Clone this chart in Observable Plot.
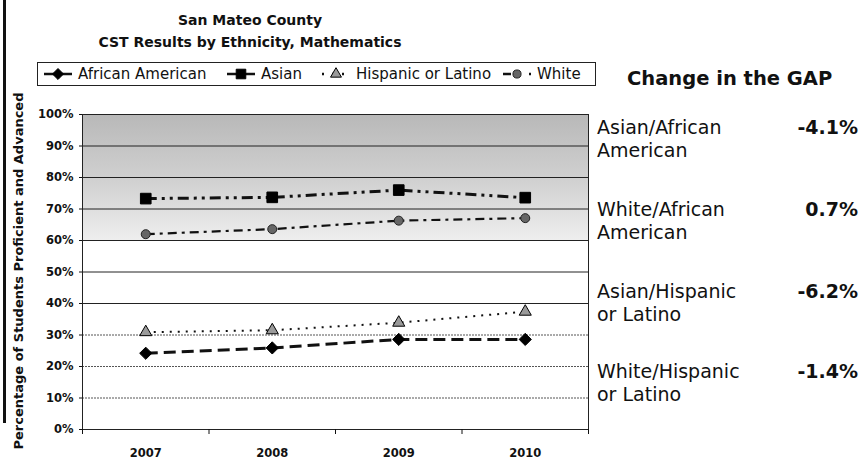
<!DOCTYPE html>
<html>
<head>
<meta charset="utf-8">
<script src="https://cdn.jsdelivr.net/npm/d3@7"></script>
<script src="https://cdn.jsdelivr.net/npm/@observablehq/plot@0.6"></script>
<style>
  html, body { margin: 0; padding: 0; background: #fff; }
  #wrap { position: relative; width: 864px; height: 461px; overflow: hidden; font-family: "DejaVu Sans", Verdana, sans-serif; color: #111; }
  #chart { position: absolute; left: 0; top: 0; }
  .abs { position: absolute; white-space: nowrap; }
  #title { left: 60px; width: 380px; top: 9px; text-align: center; font-weight: bold; font-size: 14px; line-height: 22px; }
  #legend { left: 37px; top: 62px; width: 557px; height: 22px; border: 1px solid #222; font-size: 15px; }
  #legend .item { position: absolute; top: 0; height: 22px; display: flex; align-items: center; }
  #legend svg { margin-right: 5px; }
  #ylabel { left: 18px; top: 271px; transform: translate(-50%, -50%) rotate(-90deg); font-weight: bold; font-size: 13px; }
  #leftbar { left: 3px; top: 0; width: 3px; height: 423px; background: #111; }
  #gaptitle { left: 627px; top: 67px; font-weight: bold; font-size: 19.5px; }
  .gapname { left: 597px; font-size: 19px; line-height: 23px; }
  .gapval { right: 6px; font-size: 19px; font-weight: bold; line-height: 23px; text-align: right; }
</style>
</head>
<body>
<div id="wrap">
  <div id="leftbar" class="abs"></div>
  <div id="title" class="abs"></div>
  <div id="legend" class="abs"></div>
  <div id="ylabel" class="abs"></div>
  <div id="gaptitle" class="abs"></div>
</div>
<script>
// ---- data ----
const years = [2007, 2008, 2009, 2010];
const seriesNames = ["African American", "Asian", "Hispanic or Latino", "White"];
const africanAmerican = [24.2, 25.9, 28.6, 28.6];
const asian = [73.3, 73.7, 76.0, 73.6];
const hispanicLatino = [30.9, 31.5, 33.9, 37.4];
const white = [62.0, 63.6, 66.3, 67.1];
const yTicks = [0, 10, 20, 30, 40, 50, 60, 70, 80, 90, 100];
const shadedBand = [60, 100];
const titleLines = ["San Mateo County", "CST Results by Ethnicity, Mathematics"];
const yAxisLabel = "Percentage of Students Proficient and Advanced";
const gapTitle = "Change in the GAP";
const gapNames = [["Asian/African", "American"], ["White/African", "American"], ["Asian/Hispanic", "or Latino"], ["White/Hispanic", "or Latino"]];
const gapValues = ["-4.1%", "0.7%", "-6.2%", "-1.4%"];

// ---- styles per series ----
const styles = {
  "African American": {dash: "12,6", width: 3, symbol: "diamond2", r: 5.5, fill: "#000", stroke: "#000", legendDash: null},
  "Asian": {dash: "11,5,3,5,3,5", width: 3, symbol: "square", r: 6, fill: "#000", stroke: "#000", legendDash: null},
  "Hispanic or Latino": {dash: "2,6", width: 2, symbol: "triangle", r: 4.5, fill: "#9a9a9a", stroke: "#000", legendDash: "2,8"},
  "White": {dash: "9,5,3,5", width: 2.2, symbol: "circle", r: 4.5, fill: "#666", stroke: "#222", legendDash: "8,6,3,9"}
};
const legendX = [5, 188, 283, 464];

const valuesBySeries = [africanAmerican, asian, hispanicLatino, white];
const rows = [];
seriesNames.forEach((s, i) => years.forEach((y, j) => rows.push({series: s, year: y, value: valuesBySeries[i][j]})));

const xMin = d3.min(years) - 0.5, xMax = d3.max(years) + 0.5;
const boundaries = d3.range(xMin, xMax + 0.01, 1);

const marks = [
  Plot.rect([shadedBand], {x1: () => xMin, x2: () => xMax, y1: d => d[0], y2: d => d[1], fill: "url(#shade)"}),
  Plot.ruleY(yTicks.filter(d => d >= 40), {stroke: "#222", strokeWidth: 1}),
  Plot.ruleY(yTicks.filter(d => d > 0 && d < 40), {stroke: "#555", strokeWidth: 1, strokeDasharray: "2,1"}),
  Plot.frame({stroke: "#222", strokeWidth: 1}),
  Plot.axisY({ticks: yTicks, tickFormat: d => d + "%", tickSize: 3, tickPadding: 6, fontSize: 11.5, fontWeight: "bold", label: null}),
  Plot.axisX({ticks: boundaries, tickSize: 5, tickFormat: () => "", label: null}),
  Plot.axisX({ticks: years, tickSize: 0, tickPadding: 19, tickFormat: d => String(d), fontSize: 11.5, fontWeight: "bold", label: null})
];
seriesNames.forEach(s => {
  const st = styles[s];
  const data = rows.filter(r => r.series === s);
  marks.push(Plot.line(data, {x: "year", y: "value", stroke: "#111", strokeWidth: st.width, strokeDasharray: st.dash, strokeLinecap: "butt"}));
});
seriesNames.forEach(s => {
  const st = styles[s];
  const data = rows.filter(r => r.series === s);
  marks.push(Plot.dot(data, {x: "year", y: "value", symbol: () => st.symbol, r: st.r, fill: st.fill, stroke: st.stroke, strokeWidth: 1}));
});

const plot = Plot.plot({
  width: 864,
  height: 461,
  marginLeft: 82,
  marginRight: 276,
  marginTop: 114,
  marginBottom: 32,
  style: {fontFamily: "DejaVu Sans, Verdana, sans-serif", color: "#111", background: "transparent"},
  x: {type: "linear", domain: [xMin, xMax]},
  y: {domain: [0, 100]},
  symbol: {type: "identity"},
  marks
});
plot.id = "chart";

// gradient for the shaded band
const svgns = "http://www.w3.org/2000/svg";
const defs = document.createElementNS(svgns, "defs");
defs.innerHTML = '<linearGradient id="shade" x1="0" y1="0" x2="0" y2="1">' +
  '<stop offset="0%" stop-color="#b8b8b8"/><stop offset="55%" stop-color="#d2d2d2"/><stop offset="100%" stop-color="#eeeeee"/></linearGradient>';
plot.insertBefore(defs, plot.firstChild);

const wrap = document.getElementById("wrap");
wrap.insertBefore(plot, wrap.firstChild);

document.getElementById("title").innerHTML = titleLines.join("<br>");
document.getElementById("ylabel").textContent = yAxisLabel;
document.getElementById("gaptitle").textContent = gapTitle;

// legend
const legend = document.getElementById("legend");
seriesNames.forEach((s, i) => {
  const st = styles[s];
  const item = document.createElement("div");
  item.className = "item";
  item.style.left = legendX[i] + "px";
  const sw = document.createElementNS(svgns, "svg");
  sw.setAttribute("width", 30); sw.setAttribute("height", 14);
  const line = document.createElementNS(svgns, "line");
  line.setAttribute("x1", 1); line.setAttribute("x2", 29); line.setAttribute("y1", 7); line.setAttribute("y2", 7);
  line.setAttribute("stroke", "#111"); line.setAttribute("stroke-width", 2.5);
  if (st.legendDash) line.setAttribute("stroke-dasharray", st.legendDash);
  sw.appendChild(line);
  const sym = document.createElementNS(svgns, "path");
  const symType = {diamond2: d3.symbolDiamond2, square: d3.symbolSquare, triangle: d3.symbolTriangle, circle: d3.symbolCircle}[st.symbol];
  sym.setAttribute("d", d3.symbol(symType, Math.PI * (st.r * 0.9) ** 2)());
  sym.setAttribute("transform", "translate(15,7)");
  sym.setAttribute("fill", st.fill); sym.setAttribute("stroke", st.stroke);
  sw.appendChild(sym);
  item.appendChild(sw);
  const t = document.createElement("span");
  t.textContent = s;
  item.appendChild(t);
  legend.appendChild(item);
});

// gap panel
const rowTops = [116, 198, 280, 360];
gapNames.forEach((lines, i) => {
  const n = document.createElement("div");
  n.className = "abs gapname";
  n.style.top = rowTops[i] + "px";
  n.innerHTML = lines.join("<br>");
  wrap.appendChild(n);
  const v = document.createElement("div");
  v.className = "abs gapval";
  v.style.top = rowTops[i] + "px";
  v.textContent = gapValues[i];
  wrap.appendChild(v);
});
</script>
</body>
</html>
